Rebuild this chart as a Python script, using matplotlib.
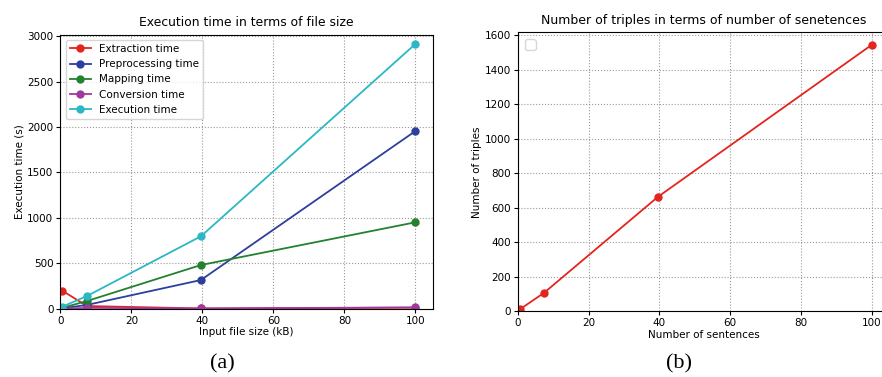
import matplotlib.pyplot as plt

# input file sizes (kB) and timings (s)
sizes = [0.5, 7.5, 39.6, 100]
extraction = [200, 30, 3, 12]
preprocessing = [5, 42, 316, 1954]
mapping = [10, 85, 481, 951]
conversion = [1, 10, 3, 15]
execution = [22, 140, 797, 2912]

# sentences vs extracted triples
sentences = [0.6, 7.4, 39.6, 100]
triples = [12, 107, 663, 1543]

fig = plt.figure(figsize=(8.82, 3.77), dpi=100)

ax1 = fig.add_axes([0.0684, 0.181, 0.4226, 0.727])
ax1.plot(sizes, extraction, "-o", color="#e3241f", label="Extraction time", lw=1.3, ms=5)
ax1.plot(sizes, preprocessing, "-o", color="#2c3f9f", label="Preprocessing time", lw=1.3, ms=5)
ax1.plot(sizes, mapping, "-o", color="#23812f", label="Mapping time", lw=1.3, ms=5)
ax1.plot(sizes, conversion, "-o", color="#a0399f", label="Conversion time", lw=1.3, ms=5)
ax1.plot(sizes, execution, "-o", color="#2bb8c4", label="Execution time", lw=1.3, ms=5)
ax1.set_xlim(0, 105)
ax1.set_ylim(0, 3015)
ax1.set_title("Execution time in terms of file size", fontsize=8.9)
ax1.set_xlabel("Input file size (kB)", fontsize=7.5, labelpad=1)
ax1.set_ylabel("Execution time (s)", fontsize=7.5, labelpad=2)
ax1.tick_params(labelsize=7.5, length=3, pad=2)
ax1.grid(True, linestyle=":", color="#999999", lw=0.8)
ax1.legend(loc="upper left", fontsize=7.5)

ax2 = fig.add_axes([0.587, 0.174, 0.4214, 0.74])
ax2.plot(sentences, triples, "-o", color="#e3241f", lw=1.3, ms=5)
ax2.set_xlim(0, 105)
ax2.set_ylim(0, 1615)
ax2.set_title("Number of triples in terms of number of senetences", fontsize=9)
ax2.set_xlabel("Number of sentences", fontsize=7.5, labelpad=1)
ax2.set_ylabel("Number of triples", fontsize=7.5, labelpad=2)
ax2.tick_params(labelsize=7.5, length=3, pad=2)
ax2.grid(True, linestyle=":", color="#999999", lw=0.8)
ax2.legend([], [], loc="upper left")

fig.text(0.252, 0.0345, "(a)", fontsize=16, family="Liberation Serif", ha="center", va="center")
fig.text(0.770, 0.0345, "(b)", fontsize=16, family="Liberation Serif", ha="center", va="center")

fig.savefig("out.png", dpi=100)
